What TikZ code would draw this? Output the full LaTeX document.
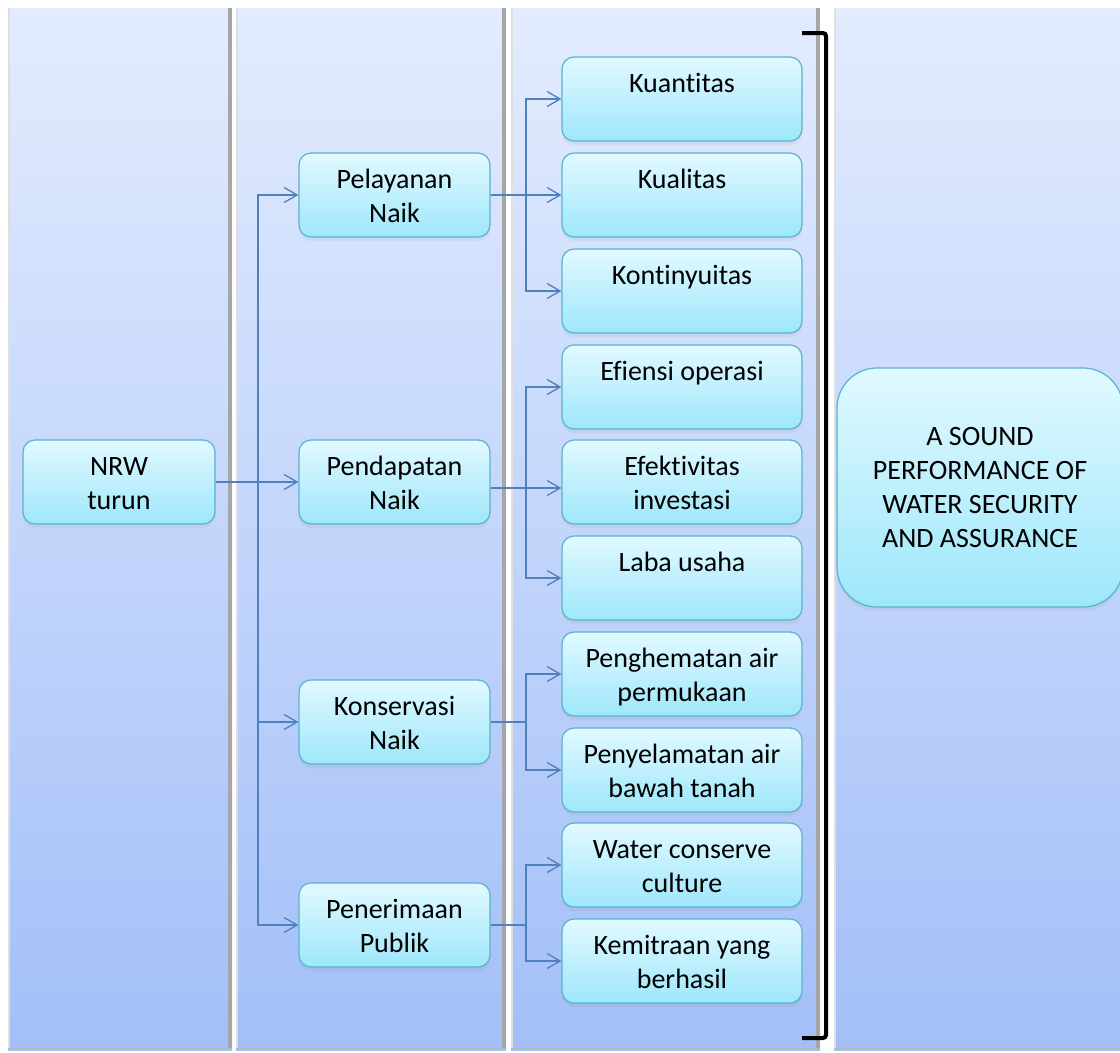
\documentclass[tikz,border=0pt]{standalone}
\usepackage{fontspec}
\setmainfont{Carlito}[Ligatures=NoCommon]
\usetikzlibrary{arrows.meta,shadows}
\definecolor{lanetop}{HTML}{E3ECFE}
\definecolor{lanebot}{HTML}{A3BFF8}
\definecolor{boxtop}{HTML}{E1F9FF}
\definecolor{boxbot}{HTML}{9EE7FB}
\definecolor{boxline}{HTML}{58B3CC}
\definecolor{conncol}{HTML}{4F81BD}
\newcommand{\hiStrut}{\rule[-10.2pt]{0pt}{42pt}}
\newcommand{\twoln}[2]{#1\hiStrut\\#2\strut}
\newcommand{\oneln}[1]{#1\hiStrut\\\strut}
\begin{document}
\begin{tikzpicture}[x=1pt,y=-1pt,
  box/.style={draw=boxline, line width=1.2pt, rounded corners=12pt,
    top color=boxtop, bottom color=boxbot, align=center,
    font=\fontsize{28}{34}\selectfont, inner sep=0pt,
    drop shadow={opacity=0.10, shadow xshift=0pt, shadow yshift=-4pt}},
  mid/.style={box, minimum width=191pt, minimum height=84pt},
  res/.style={box, minimum width=240pt, minimum height=84pt},
  conn/.style={draw=conncol, line width=1.3pt},
  arr/.style={conn, -{Straight Barb[length=13pt,width=15pt]}},
  lane/.style={top color=lanetop, bottom color=lanebot, draw=none},
  sepbar/.style={draw=gray!70, line width=4pt},
  sepedge/.style={draw=gray!25, line width=1.5pt},
  lanefoot/.style={draw=gray!55, line width=2pt}
]
\useasboundingbox (0,0) rectangle (1120,1053);
\fill[white] (0,0) rectangle (1120,1053);

% lanes
\shade[lane] (8,8) rectangle (232,1050);
\shade[lane] (236,8) rectangle (506,1050);
\shade[lane] (511,8) rectangle (820,1050);
\shade[lane] (834,8) rectangle (1120,1050);
\draw[sepbar] (230,8) -- (230,1050);
\draw[sepbar] (504,8) -- (504,1050);
\draw[sepbar] (818,8) -- (818,1050);
\draw[sepedge] (8.75,8) -- (8.75,1050);
\draw[sepedge] (236.75,8) -- (236.75,1050);
\draw[sepedge] (511.75,8) -- (511.75,1050);
\draw[sepedge] (834.75,8) -- (834.75,1050);
\draw[lanefoot] (8,1049) -- (232,1049);
\draw[lanefoot] (236,1049) -- (506,1049);
\draw[lanefoot] (511,1049) -- (820,1049);
\draw[lanefoot] (834,1049) -- (1120,1049);

% bracket
\draw[black, line width=4pt, rounded corners=3pt] (802,33) -- (826,33) -- (826,1038) -- (802,1038);

% nodes
\node[mid, minimum width=192pt] (nrw) at (119,482) {\twoln{NRW}{turun}};
\node[mid] (pel) at (394.5,195) {\twoln{Pelayanan}{Naik}};
\node[mid] (pnd) at (394.5,482) {\twoln{Pendapatan}{Naik}};
\node[mid] (kon) at (394.5,722) {\twoln{Konservasi}{Naik}};
\node[mid] (pub) at (394.5,925) {\twoln{Penerimaan}{Publik}};

\node[res] (kuan) at (682,99) {\oneln{Kuantitas}};
\node[res] (kual) at (682,195) {\oneln{Kualitas}};
\node[res] (kont) at (682,291) {\oneln{Kontinyuitas}};
\node[res] (efi) at (682,387) {\oneln{Efiensi operasi}};
\node[res] (eft) at (682,482) {\twoln{Efektivitas}{investasi}};
\node[res] (laba) at (682,578) {\oneln{Laba usaha}};
\node[res] (hem) at (682,674) {\twoln{Penghematan air}{permukaan}};
\node[res] (sel) at (682,770) {\twoln{Penyelamatan air}{bawah tanah}};
\node[res] (wcc) at (682,865) {\twoln{Water conserve}{culture}};
\node[res] (mit) at (682,961) {\twoln{Kemitraan yang}{berhasil}};

\node[box, rounded corners=40pt, minimum width=286pt, minimum height=239pt] (goal) at (980,487.5)
  {A SOUND\\PERFORMANCE OF\\WATER SECURITY\\AND ASSURANCE};

% connectors
\coordinate (t0) at (258,482);
\draw[conn] (nrw.east) -- (t0);
\draw[arr] (t0) |- (pel.west);
\draw[arr] (t0) -- (pnd.west);
\draw[arr] (t0) |- (kon.west);
\draw[arr] (t0) |- (pub.west);

\coordinate (t1) at (526,195);
\draw[conn] (pel.east) -- (t1);
\draw[arr] (t1) |- (kuan.west);
\draw[arr] (t1) -- (kual.west);
\draw[arr] (t1) |- (kont.west);

\coordinate (t2) at (526,488);
\draw[conn] ([yshift=-6pt]pnd.east) -- (t2);
\draw[arr] (t2) |- (efi.west);
\draw[arr] (t2) -- ([yshift=-6pt]eft.west);
\draw[arr] (t2) |- (laba.west);

\coordinate (t3) at (526,722);
\draw[conn] (kon.east) -- (t3);
\draw[arr] (t3) |- (hem.west);
\draw[arr] (t3) |- (sel.west);

\coordinate (t4) at (526,925);
\draw[conn] (pub.east) -- (t4);
\draw[arr] (t4) |- (wcc.west);
\draw[arr] (t4) |- (mit.west);
\end{tikzpicture}
\end{document}
